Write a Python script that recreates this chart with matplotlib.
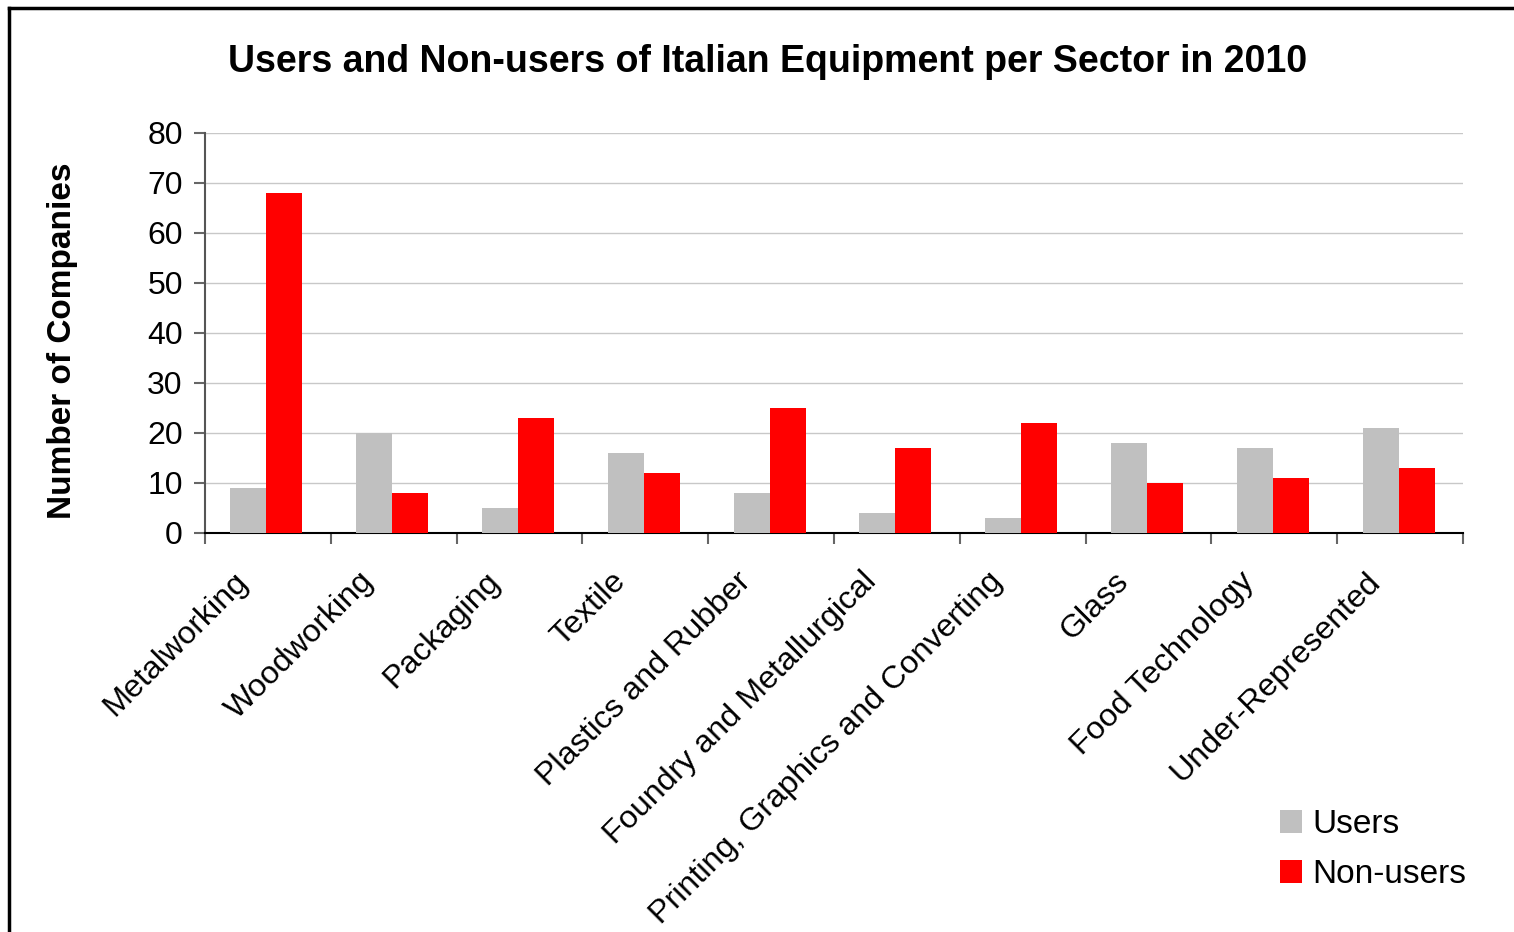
import matplotlib.pyplot as plt
import numpy as np
from matplotlib.lines import Line2D

plt.rcParams['font.family'] = ['Liberation Sans', 'DejaVu Sans']

sectors = ["Metalworking", "Woodworking", "Packaging", "Textile",
           "Plastics and Rubber", "Foundry and Metallurgical",
           "Printing, Graphics and Converting", "Glass",
           "Food Technology", "Under-Represented"]
users = [9, 20, 5, 16, 8, 4, 3, 18, 17, 21]
non_users = [68, 8, 23, 12, 25, 17, 22, 10, 11, 13]

fig = plt.figure(figsize=(15.14, 9.32), dpi=100)
ax = fig.add_axes([205 / 1514, 1 - 533 / 932, 1258 / 1514, 400 / 932])

x = np.arange(len(sectors))
w = 0.286
ax.bar(x - w / 2 - 0.012, users, width=w, color="#C0C0C0", label="Users", zorder=3)
ax.bar(x + w / 2 - 0.012, non_users, width=w, color="#FF0000", label="Non-users", zorder=3)

ax.set_xlim(-0.5, len(sectors) - 0.5)
ax.set_ylim(0, 80)
ax.set_yticks(range(0, 81, 10))
ax.grid(axis="y", color="#C8C8C8", linewidth=1, zorder=0)

# ticks sit on category boundaries; rotated labels hang a little left of centre
ax.set_xticks(np.arange(-0.5, len(sectors) + 0.5, 1))
ax.set_xticklabels([])
ax.set_xticks(x - 0.28, minor=True)
ax.set_xticklabels(sectors, minor=True, rotation=45, ha="right",
                   rotation_mode="anchor", fontsize=23.2)
ax.tick_params(axis="x", which="minor", length=0, pad=24)
ax.tick_params(axis="x", which="major", length=8, width=1.5, color="#666666")
ax.tick_params(axis="y", length=8, width=1.5, color="#666666", labelsize=23, pad=8)

for s in ["top", "right"]:
    ax.spines[s].set_visible(False)
ax.spines["left"].set_color("#555555")
ax.spines["left"].set_linewidth(1.5)
ax.spines["bottom"].set_color("black")
ax.spines["bottom"].set_linewidth(1.5)

ax.set_ylabel("Number of Companies", fontsize=24, fontweight="bold")
ax.yaxis.set_label_coords(-127 / 1258, 0.48)

fig.text(768 / 1514, 1 - 62 / 932, "Users and Non-users of Italian Equipment per Sector in 2010",
         ha="center", va="center", fontsize=27, fontweight="bold")

fig.legend(loc="upper left", bbox_to_anchor=(1280 / 1514, 1 - 809 / 932),
           frameon=False, fontsize=24, handlelength=0.67, handleheight=0.67,
           handletextpad=0.3, labelspacing=0.58, borderpad=0, borderaxespad=0)

# outer frame (top and left edges)
fig.add_artist(Line2D([9 / 1514, 9 / 1514], [0, 1 - 8 / 932], transform=fig.transFigure,
                      color="black", linewidth=2.5))
fig.add_artist(Line2D([9 / 1514, 1], [1 - 8 / 932, 1 - 8 / 932], transform=fig.transFigure,
                      color="black", linewidth=2.5))

fig.savefig("out.png", dpi=100)
